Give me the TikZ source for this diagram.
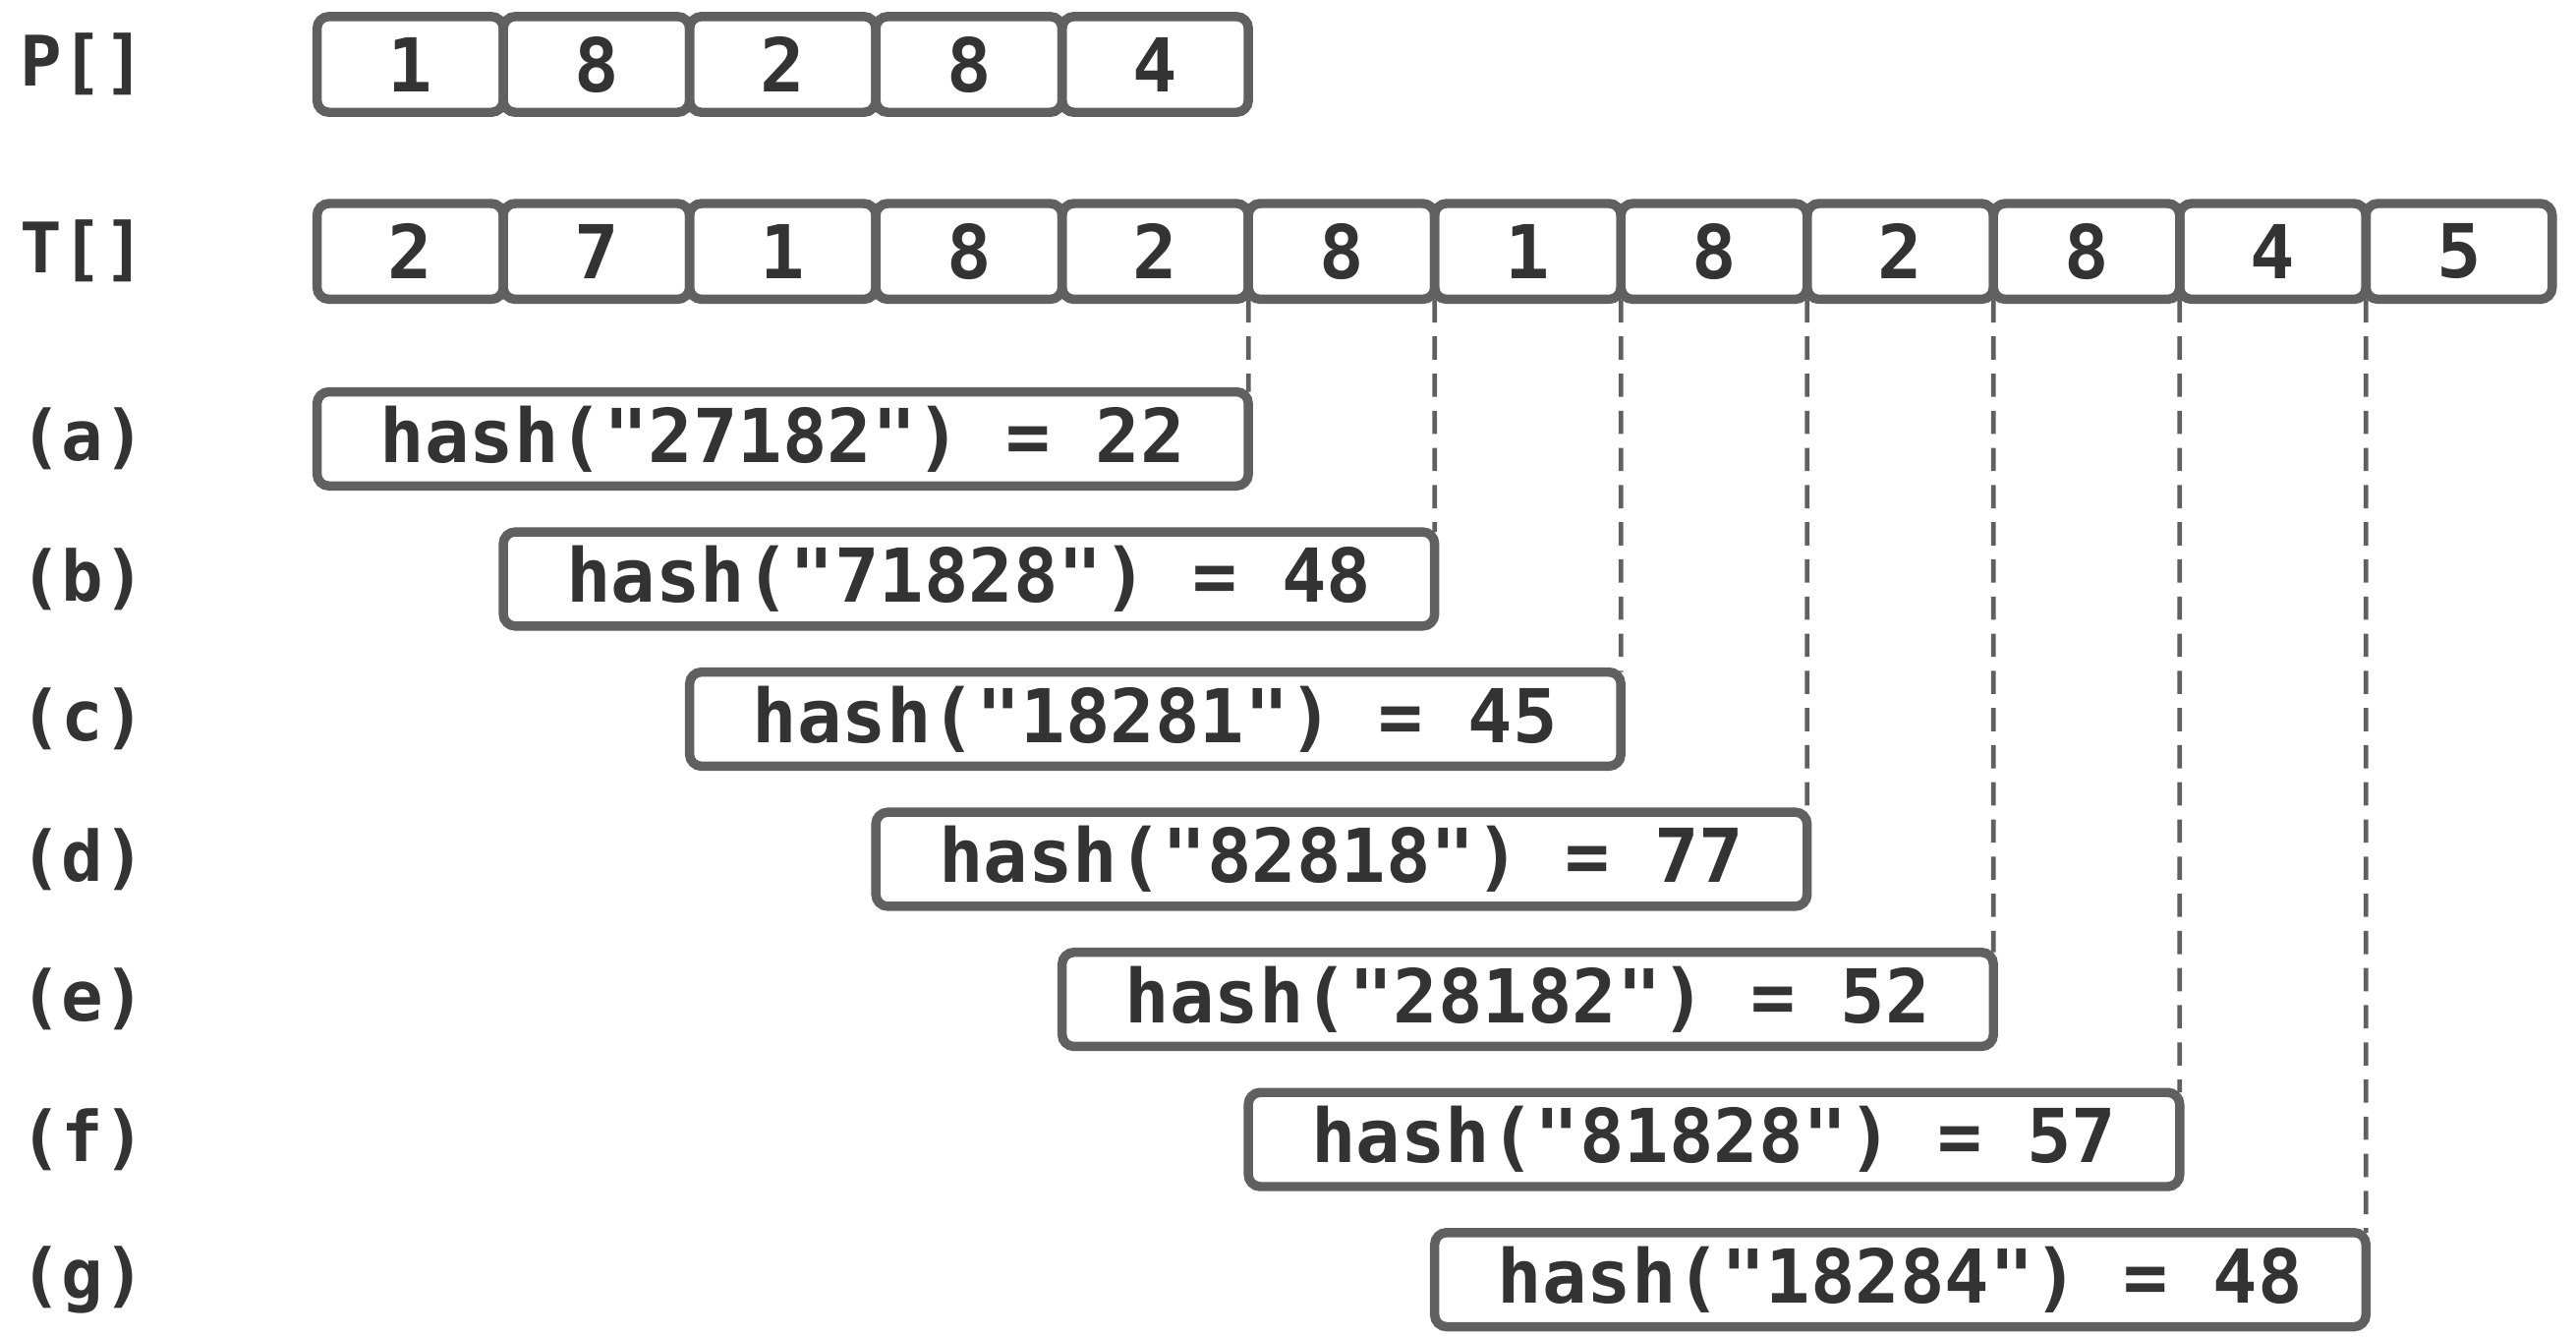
\documentclass[tikz,border=0pt]{standalone}
\usepackage{fontspec}
\setmonofont{DejaVu Sans Mono}
\usetikzlibrary{positioning}
\definecolor{boxgray}{HTML}{606060}
\definecolor{txtgray}{HTML}{333333}

\begin{document}
\begin{tikzpicture}[cell/.style = {draw=boxgray, line width=2pt, rounded corners=0.9mm,
                      minimum width=1.41cm, minimum height=0.725cm, inner sep=0pt, outer sep=0pt,
                      text=txtgray, font=\ttfamily\bfseries\fontsize{16}{16}\selectfont},
                    hashbox/.style = {cell, minimum width=7.05cm, minimum height=0.7125cm},
                    tag/.style = {text=txtgray, font=\ttfamily\bfseries\fontsize{15}{15}\selectfont},
                    guide/.style = {draw=boxgray, line width=1pt, dash pattern=on 5pt off 3pt}]

\useasboundingbox (0,0) rectangle (19.5,-10.118);

% pattern
\node[cell] (p1) at (3.105,-0.4875) {1};
\node[cell] (p2) [right=0pt of p1] {8};
\node[cell] (p3) [right=0pt of p2] {2};
\node[cell] (p4) [right=0pt of p3] {8};
\node[cell] (p5) [right=0pt of p4] {4};

% text
\node[cell] (t1) [below=0.69cm of p1] {2};
\node[cell] (t2) [right=0pt of t1] {7};
\node[cell] (t3) [right=0pt of t2] {1};
\node[cell] (t4) [right=0pt of t3] {8};
\node[cell] (t5) [right=0pt of t4] {2};
\node[cell] (t6) [right=0pt of t5] {8};
\node[cell] (t7) [right=0pt of t6] {1};
\node[cell] (t8) [right=0pt of t7] {8};
\node[cell] (t9) [right=0pt of t8] {2};
\node[cell] (t10) [right=0pt of t9] {8};
\node[cell] (t11) [right=0pt of t10] {4};
\node[cell] (t12) [right=0pt of t11] {5};

% hash windows
\node[hashbox] (ha) [below right=0.7cm and 0pt of t1.south west] {hash("27182") = 22};
\node[hashbox] (hb) [below right=0.348cm and 1.41cm of ha.south west] {hash("71828") = 48};
\node[hashbox] (hc) [below right=0.348cm and 1.41cm of hb.south west] {hash("18281") = 45};
\node[hashbox] (hd) [below right=0.348cm and 1.41cm of hc.south west] {hash("82818") = 77};
\node[hashbox] (he) [below right=0.348cm and 1.41cm of hd.south west] {hash("28182") = 52};
\node[hashbox] (hf) [below right=0.348cm and 1.41cm of he.south west] {hash("81828") = 57};
\node[hashbox] (hg) [below right=0.348cm and 1.41cm of hf.south west] {hash("18284") = 48};

% row labels
\node[tag] (lp) at (0.625,0 |- p1) {P[]};
\node[tag] (lt) at (0.625,0 |- t1) {T[]};
\node[tag] (la) at (0.625,0 |- ha) {(a)};
\node[tag] (lb) at (0.625,0 |- hb) {(b)};
\node[tag] (lc) at (0.625,0 |- hc) {(c)};
\node[tag] (ld) at (0.625,0 |- hd) {(d)};
\node[tag] (le) at (0.625,0 |- he) {(e)};
\node[tag] (lf) at (0.625,0 |- hf) {(f)};
\node[tag] (lg) at (0.625,0 |- hg) {(g)};

\draw[guide] (t5.south east) -- (ha.north east);
\draw[guide] (t6.south east) -- (hb.north east);
\draw[guide] (t7.south east) -- (hc.north east);
\draw[guide] (t8.south east) -- (hd.north east);
\draw[guide] (t9.south east) -- (he.north east);
\draw[guide] (t10.south east) -- (hf.north east);
\draw[guide] (t11.south east) -- (hg.north east);

\end{tikzpicture}
\end{document}
